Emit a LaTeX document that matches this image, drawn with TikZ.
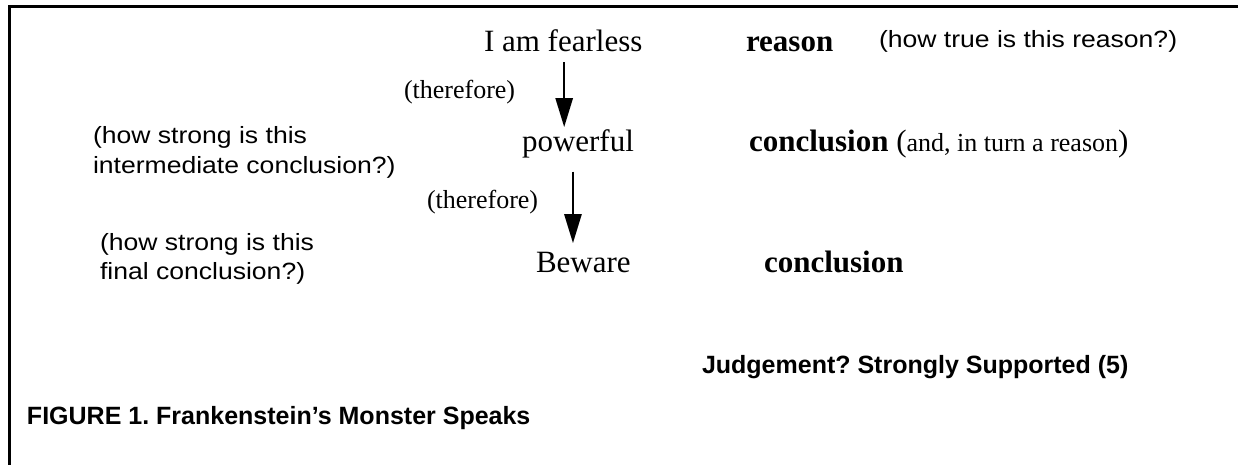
\documentclass[tikz,border=0pt]{standalone}
\usepackage{fontspec}
\setmainfont{Liberation Serif}
\newfontfamily\hsans[FakeStretch=1.13]{Liberation Sans}
\newfontfamily\hsansb{Liberation Sans}
\usetikzlibrary{arrows.meta,calc}
\frenchspacing
\begin{document}
\begin{tikzpicture}[x=1pt,y=1pt,
  every node/.style={inner sep=0pt,outer sep=0pt,anchor=base west},
  word/.style={font=\fontsize{31}{37}\selectfont},
  keyw/.style={font=\fontsize{31}{37}\selectfont\bfseries},
  ther/.style={font=\fontsize{26}{31}\selectfont},
  note/.style={font=\hsans\fontsize{23.5}{29}\selectfont},
  judge/.style={font=\hsansb\bfseries\fontsize{25}{30}\selectfont},
  arr/.style={line width=2.6pt,-{Triangle[length=29pt,width=17pt]}},
  framestyle/.style={line width=3pt}]
\useasboundingbox (0,0) rectangle (1238,-465);
\draw[framestyle] (1240,-7) -- (9,-7) -- (9,-467);

\node[word] (fear) at (484,-52) {I am fearless};
\node[keyw] (reas) at (746,-52) {reason};
\node[note] (q1) at (879,-48) {(how true is this reason?)};

\node[ther] (th1) at (404,-99) {(therefore)};

\node[note] (n1) at (93,-144) {\begin{tabular}[t]{@{}l@{}}(how strong is this\\intermediate conclusion?)\end{tabular}};
\node[word] (pow) at (522,-152) {powerful};
\node[keyw] (conc1) at (749,-152) {conclusion {\mdseries(\fontsize{26}{31}\selectfont and, in turn a reason\fontsize{31}{37}\selectfont)}};

\node[ther] (th2) at (427,-208) {(therefore)};

\node[note] (n2) at (100,-250) {\begin{tabular}[t]{@{}l@{}}(how strong is this\\final conclusion?)\end{tabular}};
\node[word] (bew) at (536,-272) {Beware};
\node[keyw] (conc2) at (764,-272) {conclusion};

\node[judge] (jud) at (702,-373) {Judgement? Strongly Supported (5)};
\node[judge] (cap) at (27,-424) {FIGURE 1. Frankenstein’s Monster Speaks};

\draw[arr] ($(fear.south)+(1,-10)$) -- ($(fear.south |- pow.north)+(1,3)$);
\draw[arr] ($(pow.south)+(-5,-13)$) -- ($(pow.south |- bew.north)+(-5,8.5)$);
\end{tikzpicture}
\end{document}
